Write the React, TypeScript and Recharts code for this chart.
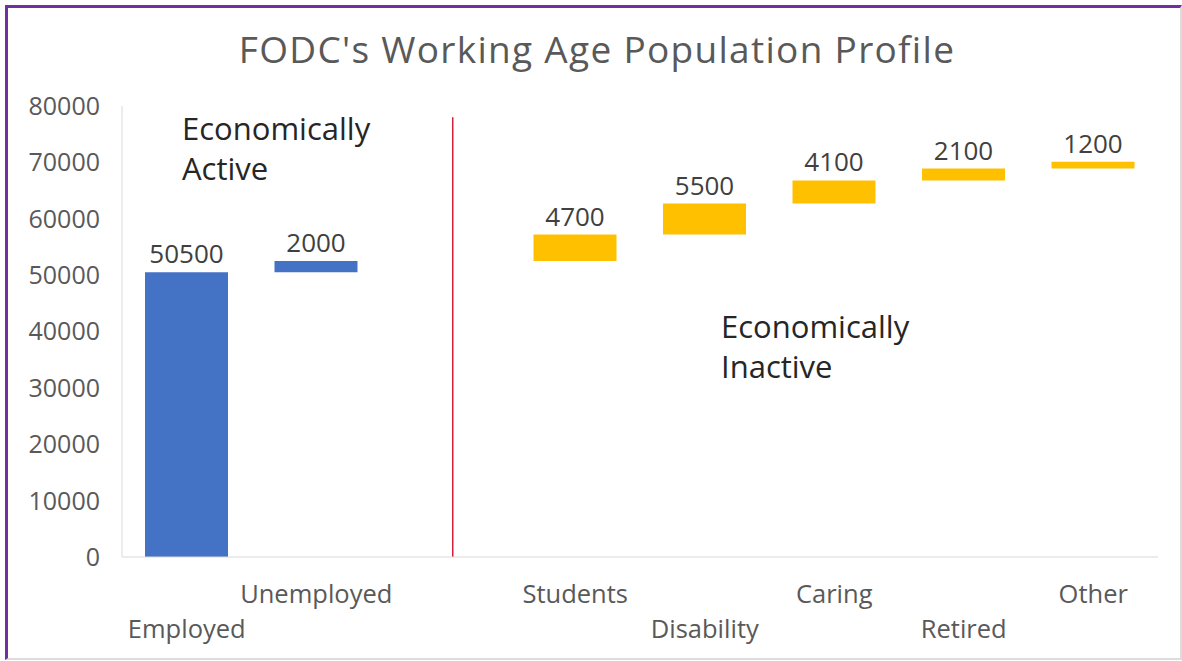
import React from "react";
import {
  ComposedChart,
  Bar,
  XAxis,
  YAxis,
  Cell,
  LabelList,
  ReferenceLine,
} from "recharts";

// waterfall steps
const categories = ["Employed", "Unemployed", " ", "Students", "Disability", "Caring", "Retired", "Other"];
const values: (number | null)[] = [50500, 2000, null, 4700, 5500, 4100, 2100, 1200];
const groups = ["active", "active", "", "inactive", "inactive", "inactive", "inactive", "inactive"];
const yTicks = [0, 10000, 20000, 30000, 40000, 50000, 60000, 70000, 80000];

const FONT = "'Open Sans', sans-serif";
const BLUE = "#4472C4";
const GOLD = "#FFC000";

let running = 0;
const data = categories.map((name, i) => {
  const v = values[i];
  const base = running;
  if (v != null) running += v;
  return { name, base: v == null ? null : base, value: v, group: groups[i] };
});

function StaggerTick(props: any) {
  const { x, y, payload, index } = props;
  const low = index % 2 === 0;
  return (
    <text
      x={x}
      y={y + (low ? 73 : 38)}
      textAnchor="middle"
      fill="#595959"
      fontSize={25.5}
      fontFamily={FONT}
    >
      {payload.value.trim()}
    </text>
  );
}

// divider sits a little right of the empty slot's centre in the original
function Divider(props: any) {
  const { x1, y1, x2, y2 } = props;
  return <line x1={x1 + 7} y1={y1} x2={x2 + 7} y2={y2} stroke="#D0203A" strokeWidth={1.5} />;
}

export default function App() {
  return (
    <div style={{ position: "absolute", left: 0, top: 0, width: 1182, height: 661, background: "#fff" }}>
      <div
        style={{
          position: "absolute",
          left: 5,
          top: 5,
          width: 1172,
          height: 650,
          borderTop: "3px solid #7030A0",
          borderLeft: "3px solid #7030A0",
          borderRight: "2px solid #dcdcdc",
          borderBottom: "2px solid #dcdcdc",
        }}
      />
      <ComposedChart
        width={1182}
        height={661}
        data={data}
        margin={{ top: 106, right: 24, bottom: 14, left: 0 }}
        barSize={83}
        style={{ position: "absolute", left: 0, top: 0 }}
      >
        <XAxis
          dataKey="name"
          height={90}
          tickLine={false}
          axisLine={{ stroke: "#d9d9d9" }}
          interval={0}
          tick={<StaggerTick />}
        />
        <YAxis
          width={122}
          domain={[0, 80000]}
          ticks={yTicks}
          tickLine={false}
          axisLine={{ stroke: "#d9d9d9" }}
          tickMargin={16}
          tick={{ fill: "#595959", fontSize: 25, fontFamily: FONT }}
        />
        <ReferenceLine
          segment={[{ x: " ", y: 78000 }, { x: " ", y: 0 }]}
          shape={<Divider />}
        />
        <Bar dataKey="base" stackId="w" fill="transparent" isAnimationActive={false} />
        <Bar dataKey="value" stackId="w" isAnimationActive={false}>
          {data.map((d, i) => (
            <Cell key={i} fill={d.group === "active" ? BLUE : GOLD} />
          ))}
          <LabelList
            dataKey="value"
            position="top"
            offset={9}
            fill="#404040"
            fontSize={26}
            fontFamily={FONT}
          />
        </Bar>
      </ComposedChart>
      <svg
        width={1182}
        height={661}
        style={{ position: "absolute", left: 0, top: 0, pointerEvents: "none" }}
        fontFamily={FONT}
      >
        <text x={597} y={63} textAnchor="middle" fill="#595959" fontSize={37} letterSpacing={1.3}>
          FODC's Working Age Population Profile
        </text>
        <text x={182} y={140} fill="#262626" fontSize={31}>Economically</text>
        <text x={182} y={180} fill="#262626" fontSize={31}>Active</text>
        <text x={721} y={338} fill="#262626" fontSize={31}>Economically</text>
        <text x={721} y={378} fill="#262626" fontSize={31}>Inactive</text>
      </svg>
    </div>
  );
}
